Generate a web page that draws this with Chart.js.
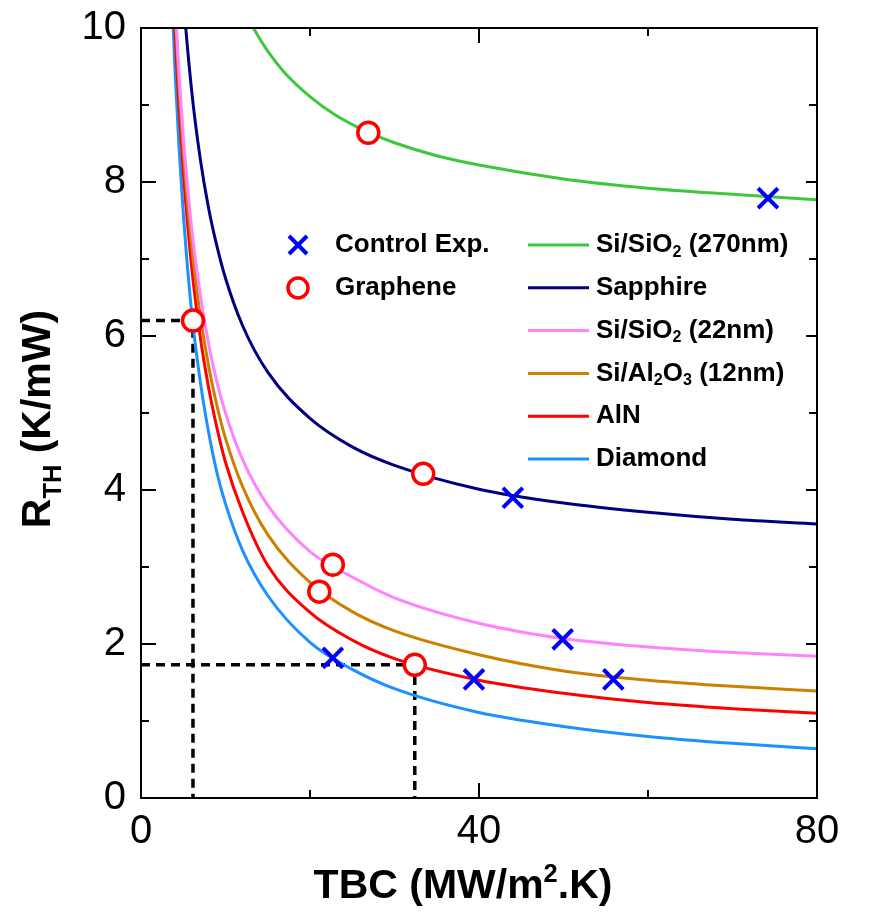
<!DOCTYPE html>
<html>
<head>
<meta charset="utf-8">
<script src="https://cdn.jsdelivr.net/npm/chart.js@4.4.0/dist/chart.umd.min.js"></script>
<style>
    html, body { margin: 0; padding: 0; background: #fff; }
</style>
</head>
<body>
<canvas id="rthChart" width="872" height="915"></canvas>
<script>
const tbcGrid = [3.5, 4, 4.5, 5, 6, 7, 8, 9, 10, 12, 15, 20, 25, 30, 40, 50, 60, 70, 80];
const sapphire   = [null, null, 11.2, 10.4, 9.18, 8.31, 7.66, 7.16, 6.75, 6.14, 5.53, 4.93, 4.56, 4.32, 4.01, 3.83, 3.71, 3.62, 3.56];
const siSiO2Thin = [null, 10.4, 9.4, 8.6, 7.4, 6.55, 5.9, 5.4, 5.0, 4.4, 3.8, 3.2, 2.87, 2.60, 2.27, 2.07, 1.96, 1.89, 1.84];
const siAl2O3    = [11.6, 10.3, 9.25, 8.42, 7.17, 6.28, 5.61, 5.09, 4.67, 4.05, 3.42, 2.80, 2.42, 2.17, 1.86, 1.65, 1.53, 1.45, 1.39];
const aln        = [11.35, 10.0, 8.97, 8.14, 6.89, 6.0, 5.33, 4.80, 4.36, 3.72, 3.02, 2.41, 2.05, 1.81, 1.53, 1.36, 1.24, 1.16, 1.10];
const diamond    = [10.9, 9.5, 8.45, 7.6, 6.3, 5.42, 4.75, 4.22, 3.82, 3.22, 2.63, 2.02, 1.67, 1.42, 1.11, 0.93, 0.80, 0.71, 0.64];

const tbcThick = [12, 13, 14, 15, 17, 20, 23, 27, 30, 35, 40, 50, 60, 70, 80];
const siSiO2Thick = [10.29, 10.06, 9.87, 9.70, 9.42, 9.11, 8.87, 8.64, 8.51, 8.34, 8.22, 8.04, 7.92, 7.84, 7.77];

// measured points
const controlTbc = [74.2, 44.0, 49.9, 22.7, 39.4, 55.9];
const controlR   = [7.79, 3.90, 2.06, 1.82, 1.54, 1.54];
const grapheneTbc = [26.9, 6.15, 33.4, 22.7, 21.1, 32.4];
const grapheneR   = [8.64, 6.2, 4.21, 3.03, 2.68, 1.73];

// dashed read-off guides
const guideA_x = [0, 6.15, 6.15];
const guideA_y = [6.2, 6.2, 0];
const guideB_x = [0, 32.4, 32.4];
const guideB_y = [1.73, 1.73, 0];

const xTicks = [0, 40, 80];
const yTicks = [0, 2, 4, 6, 8, 10];

const FAMILY = '"Liberation Sans", Arial, Helvetica, sans-serif';
const font = (size, bold) => (bold ? 'bold ' : '') + size + 'px ' + FAMILY;

const pts = (xs, ys) => xs.map((x, i) => ({ x: x, y: ys[i] }));

const curves = [
    { label: 'Si/SiO2 (270nm)', parts: [['Si/SiO', ''], ['2', 'sub'], [' (270nm)', '']], xs: tbcThick, ys: siSiO2Thick, color: 'rgb(60,200,60)' },
    { label: 'Sapphire', parts: [['Sapphire', '']], xs: tbcGrid, ys: sapphire, color: 'rgb(0,0,128)' },
    { label: 'Si/SiO2 (22nm)', parts: [['Si/SiO', ''], ['2', 'sub'], [' (22nm)', '']], xs: tbcGrid, ys: siSiO2Thin, color: 'rgb(255,130,255)' },
    { label: 'Si/Al2O3 (12nm)', parts: [['Si/Al', ''], ['2', 'sub'], ['O', ''], ['3', 'sub'], [' (12nm)', '']], xs: tbcGrid, ys: siAl2O3, color: 'rgb(204,128,0)' },
    { label: 'AlN', parts: [['AlN', '']], xs: tbcGrid, ys: aln, color: 'rgb(255,0,0)' },
    { label: 'Diamond', parts: [['Diamond', '']], xs: tbcGrid, ys: diamond, color: 'rgb(30,144,255)' }
];

const datasets = [];
datasets.push({
    label: 'Control Exp.', data: pts(controlTbc, controlR), showLine: false,
    pointStyle: 'crossRot', pointRadius: 14, borderColor: '#0000ff', borderWidth: 4,
    backgroundColor: '#0000ff', order: 0
});
datasets.push({
    label: 'Graphene', data: pts(grapheneTbc, grapheneR), showLine: false,
    pointStyle: 'circle', pointRadius: 10.5, borderColor: '#ff0000', borderWidth: 3.5,
    backgroundColor: '#ffffff', order: 0
});
curves.forEach(c => {
    datasets.push({
        label: c.label, data: pts(c.xs, c.ys), borderColor: c.color, borderWidth: 3,
        pointRadius: 0, fill: false, cubicInterpolationMode: 'monotone', order: 1
    });
});
[[guideA_x, guideA_y], [guideB_x, guideB_y]].forEach(([gx, gy], i) => {
    datasets.push({
        label: 'guide' + i, data: pts(gx, gy), borderColor: '#000', borderWidth: 3.5,
        borderDash: [9, 6], pointRadius: 0, tension: 0, fill: false, order: 2
    });
});

// text with sub/superscripts
function richWidth(ctx, parts, size) {
    let w = 0;
    parts.forEach(([t, k]) => {
        ctx.font = font(k ? size * 0.62 : size, true);
        w += ctx.measureText(t).width;
    });
    return w;
}
function drawRich(ctx, parts, x, y, size) {
    let cx = x;
    parts.forEach(([t, k]) => {
        ctx.font = font(k ? size * 0.62 : size, true);
        let dy = 0;
        if (k === 'sub') dy = size * 0.28;
        if (k === 'sup') dy = -size * 0.38;
        ctx.fillText(t, cx, y + dy);
        cx += ctx.measureText(t).width;
    });
}

const framePlugin = {
    id: 'frame',
    afterDraw(chart) {
        const ctx = chart.ctx;
        const a = chart.chartArea;
        const xs = chart.scales.x, ys = chart.scales.y;
        ctx.save();
        ctx.strokeStyle = '#000';
        ctx.lineWidth = 2;
        ctx.setLineDash([]);
        ctx.strokeRect(a.left, a.top, a.right - a.left, a.bottom - a.top);

        // inward ticks on all four sides
        ctx.beginPath();
        for (let v = 20; v < 80; v += 20) {
            const len = v % 40 === 0 ? 15 : 8;
            const px = xs.getPixelForValue(v);
            ctx.moveTo(px, a.bottom); ctx.lineTo(px, a.bottom - len);
            ctx.moveTo(px, a.top); ctx.lineTo(px, a.top + len);
        }
        for (let v = 1; v < 10; v++) {
            const len = v % 2 === 0 ? 15 : 8;
            const py = ys.getPixelForValue(v);
            ctx.moveTo(a.left, py); ctx.lineTo(a.left + len, py);
            ctx.moveTo(a.right, py); ctx.lineTo(a.right - (v % 2 === 0 ? 11 : 8), py);
        }
        ctx.stroke();

        // axis titles
        ctx.fillStyle = '#000';
        ctx.textBaseline = 'alphabetic';
        ctx.textAlign = 'left';
        const xParts = [['TBC (MW/m', ''], ['2', 'sup'], ['.K)', '']];
        const xw = richWidth(ctx, xParts, 41);
        drawRich(ctx, xParts, 463 - xw / 2, 898, 41);

        const yParts = [['R', ''], ['TH', 'sub'], [' (K/mW)', '']];
        const yw = richWidth(ctx, yParts, 41);
        ctx.save();
        ctx.translate(50, 419);
        ctx.rotate(-Math.PI / 2);
        drawRich(ctx, yParts, -yw / 2, 0, 41);
        ctx.restore();

        // legend, left column: markers
        ctx.strokeStyle = '#0000ff';
        ctx.lineWidth = 4;
        ctx.beginPath();
        ctx.moveTo(289, 236); ctx.lineTo(307, 254);
        ctx.moveTo(307, 236); ctx.lineTo(289, 254);
        ctx.stroke();
        ctx.strokeStyle = '#ff0000';
        ctx.lineWidth = 3.5;
        ctx.beginPath();
        ctx.arc(298, 288, 10, 0, Math.PI * 2);
        ctx.stroke();
        ctx.textBaseline = 'middle';
        drawRich(ctx, [['Control Exp.', '']], 335, 245, 26);
        drawRich(ctx, [['Graphene', '']], 335, 288, 26);

        // legend, right column: lines
        curves.forEach((c, i) => {
            const y = 245 + i * 42.8;
            ctx.strokeStyle = c.color;
            ctx.lineWidth = 3;
            ctx.beginPath();
            ctx.moveTo(528, y); ctx.lineTo(589, y);
            ctx.stroke();
            ctx.fillStyle = '#000';
            drawRich(ctx, c.parts, 596, y, 26);
        });
        ctx.restore();
    }
};

const ctx = document.getElementById('rthChart').getContext('2d');
const rthChart = new Chart(ctx, {
    type: 'line',
    data: { datasets: datasets },
    plugins: [framePlugin],
    options: {
        responsive: false,
        animation: false,
        layout: { padding: { top: 28, right: 55, left: 0, bottom: 0 } },
        plugins: { legend: { display: false }, tooltip: { enabled: false } },
        scales: {
            x: {
                type: 'linear', min: 0, max: 80,
                grid: { display: false, drawTicks: false },
                border: { display: false },
                ticks: {
                    stepSize: 40, padding: 10, color: '#000',
                    font: { size: 40, family: FAMILY },
                    callback: v => xTicks.includes(v) ? String(v) : ''
                },
                afterFit: s => { s.height = 117; s.paddingLeft = 0; s.paddingRight = 0; }
            },
            y: {
                type: 'linear', min: 0, max: 10,
                grid: { display: false, drawTicks: false },
                border: { display: false },
                ticks: {
                    stepSize: 2, padding: 15, color: '#000',
                    font: { size: 40, family: FAMILY },
                    callback: v => yTicks.includes(v) ? String(v) : ''
                },
                afterFit: s => { s.width = 141; s.paddingTop = 0; s.paddingBottom = 0; }
            }
        }
    }
});
</script>
</body>
</html>
